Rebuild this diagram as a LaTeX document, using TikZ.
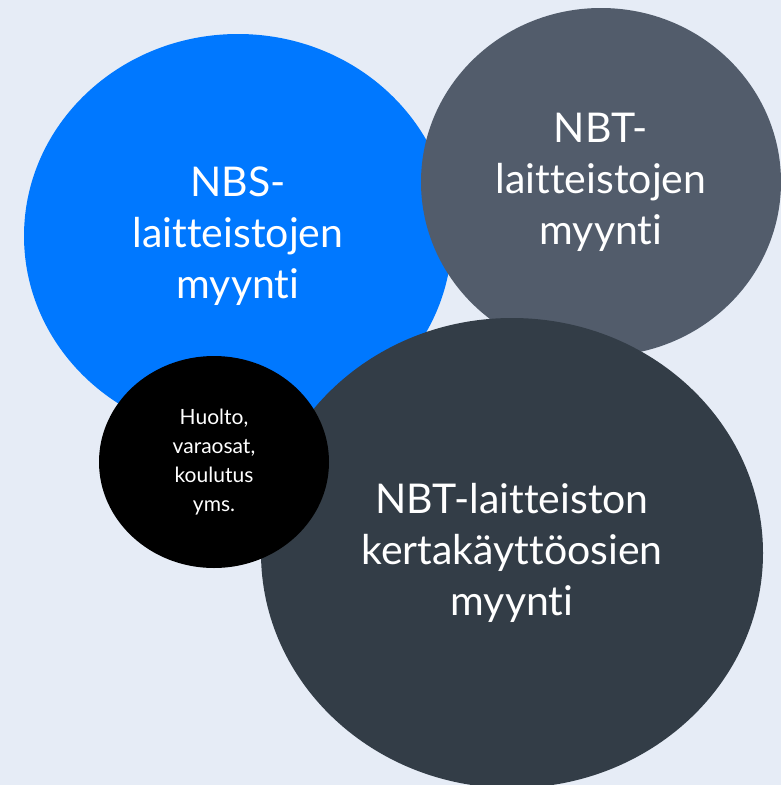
\documentclass[tikz,border=0pt]{standalone}
\usepackage{fontspec}
\setmainfont{Lato}[Ligatures=NoCommon]
\usetikzlibrary{shapes.geometric}
\definecolor{bgcol}{HTML}{E6ECF6}
\definecolor{nbsblue}{HTML}{0078FF}
\definecolor{nbtgrey}{HTML}{525C6B}
\definecolor{nbtdark}{HTML}{333D47}
\newcommand{\bigtext}{\fontsize{41}{51}\selectfont}
\newcommand{\smalltext}{\fontsize{21}{29}\selectfont}

\begin{document}
\begin{tikzpicture}[x=1pt,y=-1pt,
  bubble/.style={ellipse, inner sep=0pt, text=white, align=center, font=\bigtext}]

        \useasboundingbox (0,0) rectangle (781,785);
        \fill[bgcol] (0,0) rectangle (781,785);

        \begin{scope}
        \clip (0,0) rectangle (781,785);
          % sales circles
        \node (nbs) at (238,236) [bubble, fill=nbsblue, minimum width=428pt, minimum height=404pt] {NBS-\\laitteistojen\\myynti};
        \node (nbt) at (601,182) [bubble, fill=nbtgrey, minimum width=360pt, minimum height=348pt] {NBT-\\laitteistojen\\myynti};
        \node (disp) at (512,553) [bubble, fill=nbtdark, minimum width=502pt, minimum height=470pt] {NBT-laitteiston\\kertakäyttöosien\\myynti};
          % services
        \node (serv) at (214,462) [bubble, fill=black, minimum width=230pt, minimum height=212pt, font=\smalltext] {Huolto,\\varaosat,\\koulutus\\yms.};
        \end{scope}

        \end{tikzpicture}
\end{document}
